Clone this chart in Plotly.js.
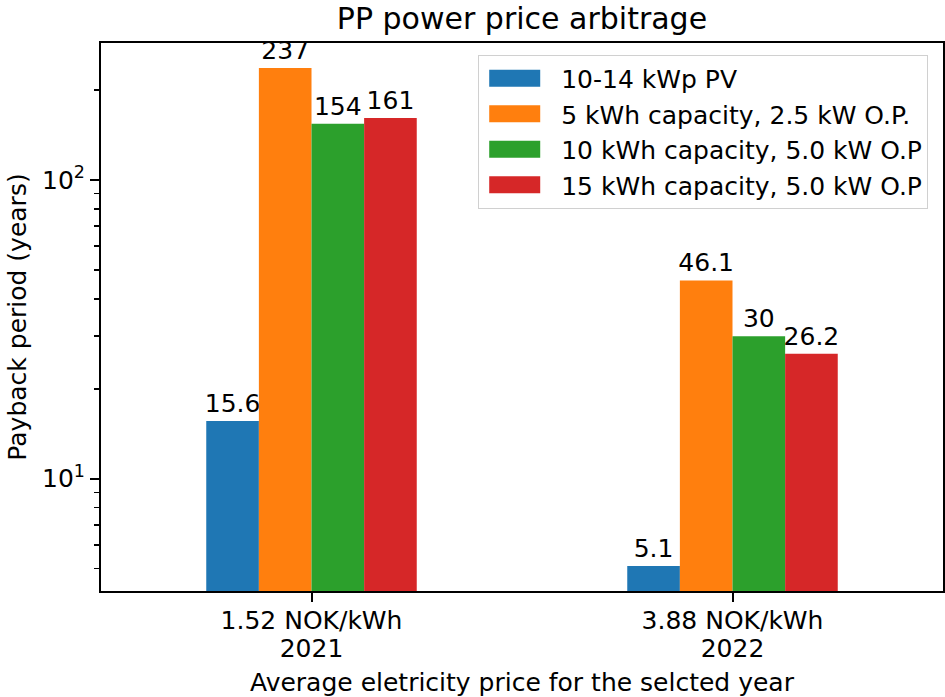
<!DOCTYPE html>
<html>
<head>
<meta charset="utf-8">
<script src="https://cdn.plot.ly/plotly-3.0.1.min.js"></script>
<style>body{margin:0;padding:0;background:#fff}#chart{width:945px;height:697px}</style>
</head>
<body>
<div id="chart"></div>
<script>
// ---- data ----
const categories = ["1.52 NOK/kWh<br>2021", "3.88 NOK/kWh<br>2022"];
const seriesNames = [
  "10-14 kWp PV",
  "5 kWh capacity, 2.5 kW O.P.",
  "10 kWh capacity, 5.0 kW O.P",
  "15 kWh capacity, 5.0 kW O.P"
];
const pvValues = [15.6, 5.1];
const cap5Values = [237, 46.1];
const cap10Values = [154, 30];
const cap15Values = [161, 26.2];
const yTickVals = [10, 100];
const yTickText = ["10<sup>1</sup>", "10<sup>2</sup>"];
const yMinorVals = [5, 6, 7, 8, 9, 20, 30, 40, 50, 60, 70, 80, 90, 200];

const colors = ["#1f77b4", "#ff7f0e", "#2ca02c", "#d62728"];
const allValues = [pvValues, cap5Values, cap10Values, cap15Values];
const FONT = "DejaVu Sans, sans-serif";

const traces = allValues.map((vals, i) => ({
  type: "bar",
  name: seriesNames[i],
  x: categories,
  y: vals,
  text: vals.map(v => String(v)),
  textposition: "outside",
  constraintext: "none",
  cliponaxis: false,
  textfont: {family: FONT, size: 25, color: "#000"},
  marker: {color: colors[i], line: {width: 0}},
  legendgroup: "g" + i,
  hoverinfo: "skip"
}));

const layout = {
  width: 945, height: 697,
  margin: {l: 101, r: 2, t: 43, b: 106},
  paper_bgcolor: "#fff", plot_bgcolor: "#fff",
  font: {family: FONT, size: 25, color: "#000"},
  title: {text: "PP power price arbitrage", font: {family: FONT, size: 30, color: "#000"},
          x: 0.5, xref: "paper", y: 1 - 18/697, yref: "container", yanchor: "middle"},
  barmode: "group", bargap: 0.5, bargroupgap: 0,
  showlegend: true,
  legend: {x: 0.448, y: 0.979, xanchor: "left", yanchor: "top",
           bordercolor: "#d0d0d0", borderwidth: 1, bgcolor: "rgba(255,255,255,0.8)",
           font: {family: FONT, size: 25, color: "#000"},
           traceorder: "normal", tracegroupgap: 5, itemwidth: 72},
  xaxis: {
    type: "category", range: [-0.5, 1.5],
    showline: true, linecolor: "#000", linewidth: 2, mirror: true,
    ticks: "outside", ticklen: 9, tickwidth: 2, tickcolor: "#000",
    tickfont: {family: FONT, size: 25, color: "#000"},
    title: {text: "Average eletricity price for the selcted year", font: {family: FONT, size: 25, color: "#000"}, standoff: 10},
    showgrid: false, zeroline: false, fixedrange: true
  },
  yaxis: {
    type: "log", range: [0.6243, 2.4581],
    showline: true, linecolor: "#000", linewidth: 2, mirror: true,
    tickmode: "array", tickvals: yTickVals, ticktext: yTickText,
    ticks: "outside", ticklen: 9, tickwidth: 2, tickcolor: "#000",
    minor: {tickmode: "array", tickvals: yMinorVals, ticks: "outside", ticklen: 5, tickwidth: 1.5, tickcolor: "#000", showgrid: false},
    tickfont: {family: FONT, size: 25, color: "#000"},
    title: {text: "Payback period (years)", font: {family: FONT, size: 25, color: "#000"}, standoff: 8},
    showgrid: false, zeroline: false, fixedrange: true
  }
};

function postFix(gd) {
  gd.querySelectorAll(".legend .legendpoints path").forEach(p => {
    p.setAttribute("d", "M-31,-8.5H20V8.5H-31Z");
  });
  gd.querySelectorAll(".xtick text").forEach(t => {
    const lines = t.querySelectorAll("tspan.line");
    lines.forEach((ln, k) => { if (k > 0) ln.setAttribute("dy", "1.11em"); });
    t.setAttribute("transform", (t.getAttribute("transform") || "") + " translate(0,-3)");
  });
}

Plotly.newPlot("chart", traces, layout, {displayModeBar: false, staticPlot: true}).then(gd => {
  postFix(gd);
});
</script>
</body>
</html>
